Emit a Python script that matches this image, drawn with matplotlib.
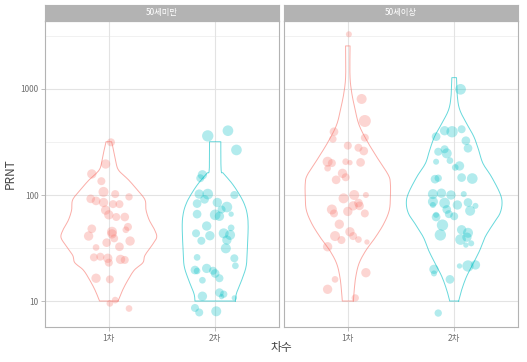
import numpy as np
import matplotlib

matplotlib.use("Agg")
import matplotlib.pyplot as plt

plt.rcParams["font.family"] = ["Noto Sans CJK KR", "DejaVu Sans"]

# facets / groups
facets = ["50세미만", "50세이상"]
groups = ["1차", "2차"]
colors = {"1차": "#F8766D", "2차": "#00BFC4"}

# jittered points: PRNT value, horizontal jitter (category units), size aesthetic
l1_val = [314, 196, 158, 135, 92, 88, 107, 102, 96, 85, 82, 82, 72, 65, 62, 62, 50, 47, 48, 41,
          43, 39, 35.5, 36.8, 32.5, 32, 26.2, 25.8, 25.3, 23, 24.7, 24.4, 16.4, 16, 10.2, 9.5, 8.5, 45]
l1_jit = [0.02, -0.03, -0.16, -0.07, -0.17, -0.12, -0.05, 0.06, 0.19, -0.05, 0.04, 0.10, -0.03, 0.00,
          0.07, 0.15, 0.18, 0.16, -0.16, -0.19, 0.03, 0.05, -0.02, 0.20, 0.10, -0.12, -0.08, -0.14,
          -0.01, 0.00, 0.11, 0.15, -0.12, 0.01, 0.06, 0.01, 0.19, 0.03]
l1_sz = [12, 14, 14, 12, 13, 13, 15, 12, 11, 14, 12, 12, 14, 14, 12, 13, 12, 10, 13, 14,
         14, 12, 13, 14, 13, 10, 12, 12, 14, 12, 14, 12, 14, 12, 10, 10, 10, 15]

l2_val = [361, 404, 266, 155, 144, 102, 102, 91, 83, 85, 100, 77, 73, 65, 63, 66, 66, 51, 43.5, 41.3,
          37, 43.5, 42, 49, 37.6, 31.4, 25.3, 21.5, 25.8, 19.6, 19.2, 20.3, 19.3, 18.2, 16.4, 15.7,
          11.1, 12, 11.6, 10.7, 8.6, 7.8, 8.0, 11]
l2_jit = [-0.07, 0.12, 0.20, -0.12, -0.14, -0.15, -0.07, -0.10, -0.17, 0.02, 0.18, 0.11, 0.06, 0.00,
          0.04, -0.17, 0.15, -0.08, -0.18, -0.05, -0.13, 0.08, 0.14, 0.15, 0.11, 0.10, 0.18, 0.19,
          -0.17, -0.19, -0.17, -0.08, -0.02, 0.00, 0.04, -0.12, -0.12, 0.04, 0.08, 0.18, -0.19,
          -0.15, 0.01, 0.06]
l2_sz = [17, 16, 16, 14, 12, 14, 16, 13, 13, 14, 12, 16, 12, 16, 14, 13, 8, 14, 12, 14, 12, 15,
         15, 10, 14, 15, 12, 10, 10, 13, 10, 14, 12, 13, 12, 10, 14, 13, 11, 8, 12, 12, 15, 8]

r1_val = [3281, 805, 499, 395, 337, 347, 292, 279, 260, 206, 200, 179, 206, 202, 203, 160, 139, 147,
          93, 100, 100, 73, 67, 70, 79, 84, 79, 67, 53, 45, 41, 41, 37.6, 38, 36, 32.5, 18.5, 16,
          12.9, 10.7]
r1_jit = [0.01, 0.13, 0.16, -0.13, -0.14, 0.16, 0.00, 0.10, 0.15, -0.19, -0.15, -0.19, -0.02, 0.02,
          0.12, -0.05, -0.11, -0.02, -0.04, 0.06, 0.17, -0.15, -0.13, 0.00, 0.05, 0.10, 0.11, 0.16,
          -0.08, 0.02, 0.05, -0.12, -0.06, 0.10, 0.18, -0.19, 0.17, -0.12, -0.19, 0.07]
r1_sz = [9, 15, 18, 13, 11, 12, 12, 12, 13, 15, 12, 10, 10, 8, 13, 14, 13, 12, 15, 15, 9, 15, 12,
         14, 14, 13, 13, 12, 14, 14, 12, 15, 12, 10, 8, 14, 14, 10, 14, 11]

r2_val = [993, 404, 395, 417, 355, 325, 276, 256, 270, 247, 206, 211, 182, 188, 141, 144, 146, 143,
          102, 104, 100, 102, 86.5, 84, 80.5, 85, 79, 80.5, 73, 71, 66, 63, 65, 62, 52, 42, 47, 44,
          40, 38, 35, 33.7, 19.9, 18.2, 21.4, 21.9, 21.4, 16, 7.7]
r2_jit = [0.06, -0.09, -0.02, 0.07, -0.17, 0.11, 0.13, -0.15, -0.09, -0.07, -0.17, -0.04, 0.01, 0.05,
          -0.18, -0.15, 0.07, 0.17, -0.20, -0.12, -0.03, 0.09, -0.20, -0.09, 0.03, 0.13, 0.20, -0.20,
          -0.07, 0.15, -0.05, 0.00, -0.17, -0.17, -0.11, -0.13, 0.07, 0.13, 0.12, 0.06, 0.16, 0.11,
          -0.19, -0.19, 0.13, 0.20, 0.05, -0.04, -0.15]
r2_sz = [16, 14, 17, 12, 13, 13, 13, 12, 12, 15, 9, 10, 10, 14, 13, 11, 13, 16, 15, 14, 14, 9, 15,
         16, 14, 13, 9, 9, 13, 15, 12, 12, 9, 13, 17, 17, 14, 15, 14, 16, 9, 8, 14, 9, 17, 14, 8, 13, 11]

# violin outlines: PRNT level and half width (category units)
l1_lev = [318, 266, 214, 172, 139, 111, 90, 72, 58, 47, 40, 34, 27, 23, 19.6, 15.8, 12.7, 10]
l1_hw = [0.026, 0.044, 0.063, 0.091, 0.185, 0.27, 0.34, 0.35, 0.38, 0.43, 0.45, 0.41, 0.34, 0.32,
         0.24, 0.18, 0.13, 0.087]
l2_lev = [318, 172, 160, 129, 104, 84, 67, 50, 28, 21, 15.8, 11.8, 10]
l2_hw = [0.053, 0.056, 0.078, 0.157, 0.22, 0.27, 0.30, 0.31, 0.30, 0.29, 0.25, 0.20, 0.19]
r1_lev = [2547, 1355, 944, 658, 457, 318, 222, 155, 129, 96, 72, 54, 40, 30, 22.7, 17, 12.7, 10]
r1_hw = [0.021, 0.02, 0.035, 0.066, 0.106, 0.185, 0.28, 0.38, 0.40, 0.40, 0.39, 0.34, 0.26, 0.17,
         0.106, 0.075, 0.06, 0.052]
r2_lev = [1279, 845, 634, 474, 355, 266, 199, 149, 104, 84, 67, 54, 40, 30, 22.7, 17, 12.7, 10]
r2_hw = [0.022, 0.03, 0.053, 0.116, 0.185, 0.23, 0.27, 0.35, 0.43, 0.45, 0.43, 0.37, 0.29, 0.24,
         0.18, 0.116, 0.07, 0.042]

y_breaks = [10, 100, 1000]
y_minor = [31.6, 316, 3162]

PANELS = {
    "50세미만": {
        "1차": (l1_val, l1_jit, l1_sz, l1_lev, l1_hw),
        "2차": (l2_val, l2_jit, l2_sz, l2_lev, l2_hw),
    },
    "50세이상": {
        "1차": (r1_val, r1_jit, r1_sz, r1_lev, r1_hw),
        "2차": (r2_val, r2_jit, r2_sz, r2_lev, r2_hw),
    },
}

W, H = 527, 362
GRID = "#EBEBEB"
FRAME = "#B3B3B3"
TXT = "#707070"


def catmull(px, py, n=8):
    """Catmull-Rom through the outline points, just to round the corners."""
    px = np.asarray(px, float)
    py = np.asarray(py, float)
    P = np.column_stack([px, py])
    P = np.vstack([P[0], P, P[-1]])
    out = []
    for i in range(1, len(P) - 2):
        p0, p1, p2, p3 = P[i - 1], P[i], P[i + 1], P[i + 2]
        for t in np.linspace(0, 1, n, endpoint=False):
            t2, t3 = t * t, t * t * t
            out.append(0.5 * ((2 * p1) + (-p0 + p2) * t + (2 * p0 - 5 * p1 + 4 * p2 - p3) * t2
                              + (-p0 + 3 * p1 - 3 * p2 + p3) * t3))
    out.append(P[-2])
    out = np.array(out)
    return out[:, 0], out[:, 1]


def violin(ax, xc, lev, hw, color):
    lev = np.asarray(lev, float)
    hw = np.asarray(hw, float)
    order = np.argsort(lev)
    ly, w = catmull(np.log10(lev[order]), hw[order])
    y = 10 ** ly
    xs = np.concatenate([xc + w, (xc - w)[::-1], [xc + w[0]]])
    ys = np.concatenate([y, y[::-1], [y[0]]])
    ax.plot(xs, ys, color=color, lw=0.7, alpha=0.6, solid_joinstyle="round", zorder=2)


def panel(fig, rect, name, show_y):
    ax = fig.add_axes(rect)
    ax.set_yscale("log")
    ax.set_ylim(10 ** 0.755, 10 ** 3.644)
    ax.set_xlim(0.4, 2.6)
    for y in y_minor:
        ax.axhline(y, color=GRID, lw=0.5, zorder=0)
    for y in y_breaks:
        ax.axhline(y, color="#E3E3E3", lw=0.8, zorder=0)
    for i in (1, 2):
        ax.axvline(i, color="#E3E3E3", lw=0.8, zorder=0)

    for i, g in enumerate(groups, start=1):
        val, jit, sz, lev, hw = PANELS[name][g]
        violin(ax, i, lev, hw, colors[g])
        x = i + np.asarray(jit)
        s = (0.48 * np.asarray(sz, float)) ** 2
        ax.scatter(x, val, s=s, color=colors[g], alpha=0.3, edgecolors="none", zorder=3)

    ax.set_xticks([1, 2])
    ax.set_xticklabels(groups, fontsize=6, color=TXT)
    ax.yaxis.set_minor_locator(matplotlib.ticker.NullLocator())
    ax.set_yticks(y_breaks)
    ax.tick_params(axis="both", color=FRAME, width=0.6, length=2.7, pad=2)
    if show_y:
        ax.set_yticklabels([str(v) for v in y_breaks], fontsize=6, color=TXT)
    else:
        ax.set_yticklabels([])
        ax.tick_params(axis="y", length=0)
    for sp in ax.spines.values():
        sp.set_color(FRAME)
        sp.set_linewidth(0.8)

    # facet strip
    l, b, w, h = rect
    sax = fig.add_axes([l, b + h, w, 16 / H])
    sax.set_facecolor(FRAME)
    sax.set_xticks([])
    sax.set_yticks([])
    for sp in sax.spines.values():
        sp.set_color(FRAME)
        sp.set_linewidth(0.8)
    sax.text(0.5, 0.5, name, color="white", fontsize=6, ha="center", va="center",
             transform=sax.transAxes)
    return ax


def main():
    fig = plt.figure(figsize=(W / 100, H / 100), dpi=100)
    bottom = (H - 327) / H
    height = (327 - 20.7) / H
    panel(fig, [45 / W, bottom, 234 / W, height], facets[0], True)
    panel(fig, [284 / W, bottom, 234 / W, height], facets[1], False)
    fig.text(281.5 / W, 1 - 348 / H, "차수", fontsize=8.5, color="#444444", ha="center", va="center")
    fig.text(10 / W, 1 - 174 / H, "PRNT", fontsize=8.5, color="#444444", ha="center", va="center",
             rotation=90)
    fig.savefig("out.png", dpi=100)


if __name__ == "__main__":
    main()
